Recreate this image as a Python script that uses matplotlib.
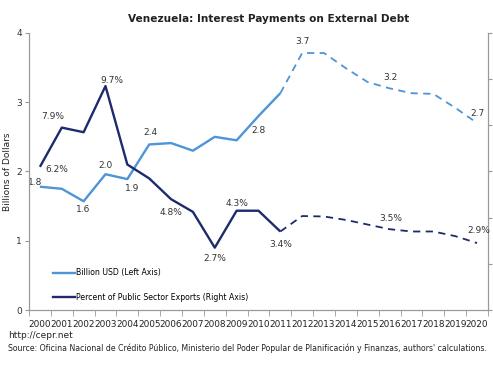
import numpy as np
import matplotlib
matplotlib.use("Agg")
import matplotlib.pyplot as plt
from matplotlib.lines import Line2D

years = list(range(2000, 2021))
billions = [1.78, 1.75, 1.57, 1.96, 1.89, 2.39, 2.41, 2.30, 2.50, 2.45, 2.80,
            3.13, 3.71, 3.71, 3.49, 3.29, 3.20, 3.13, 3.12, 2.92, 2.70]
percent = [6.2, 7.9, 7.7, 9.7, 6.3, 5.7, 4.8, 4.25, 2.7, 4.3, 4.3,
           3.4, 4.07, 4.05, 3.9, 3.7, 3.5, 3.4, 3.4, 3.2, 2.9]
last_actual = 11  # index of 2011, projections after that

# data labels: (index, text, dx px, dy px)
bil_labels = [(0, "1.8", -5, 4), (2, "1.6", 0, -8), (3, "2.0", 0, 9), (4, "1.9", 5, -9),
              (5, "2.4", 1, 12), (10, "2.8", 0, -14), (12, "3.7", 0, 12),
              (16, "3.2", 1, 11), (20, "2.7", 0, 9)]
pct_labels = [(0, "6.2%", 17, -3), (1, "7.9%", -9, 11), (3, "9.7%", 6, 6),
              (6, "4.8%", 0, -13), (8, "2.7%", 0, -11), (9, "4.3%", 0, 7),
              (11, "3.4%", 0, -13), (16, "3.5%", 1, 11), (20, "2.9%", 2, 13)]

light = "#4d94d8"
dark = "#1d2a6d"
grey = "#999999"

plt.rcParams['font.family'] = ['DejaVu Sans']
fig = plt.figure(figsize=(4.93, 3.66), dpi=100)
ax = fig.add_axes([0.0588, 0.153, 0.931, 0.757])
ax2 = ax.twinx()

x = np.arange(len(years))
ax.plot(x[:last_actual + 1], billions[:last_actual + 1], color=light, lw=1.7, solid_capstyle='butt')
ax.plot(x[last_actual:], billions[last_actual:], color=light, lw=1.3, ls=(0, (4, 3)))
ax2.plot(x[:last_actual + 1], percent[:last_actual + 1], color=dark, lw=1.7, solid_capstyle='butt')
ax2.plot(x[last_actual:], percent[last_actual:], color=dark, lw=1.3, ls=(0, (4, 3)))

for i, t, dx, dy in bil_labels:
    ax.annotate(t, (x[i], billions[i]), xytext=(dx, dy), textcoords='offset pixels',
                ha='center', va='center', fontsize=6.5, color='#333333')
for i, t, dx, dy in pct_labels:
    ax2.annotate(t, (x[i], percent[i]), xytext=(dx, dy), textcoords='offset pixels',
                 ha='center', va='center', fontsize=6.5, color='#333333')

ax.set_xlim(-0.5, len(years) - 0.5)
ax.set_ylim(0, 4)
ax2.set_ylim(0, 12)
ax.set_yticks([0, 1, 2, 3, 4])
ax2.set_yticks(range(0, 13, 2))
ax2.set_yticklabels([])
ax.set_xticks(x)
ax.set_xticklabels([str(y) for y in years], fontsize=6.4)
ax.set_xticks(np.arange(-0.5, len(years), 1), minor=True)
ax.tick_params(axis='x', which='major', length=0, pad=7, colors='#222222')
ax.tick_params(axis='x', which='minor', length=4, color=grey)
ax.tick_params(axis='y', length=3, color=grey, labelsize=6.5, pad=2, labelcolor='#333333')
ax2.tick_params(axis='y', length=3, color=grey)

for a in (ax, ax2):
    a.spines['top'].set_visible(False)
    for s in ('left', 'right', 'bottom'):
        a.spines[s].set_color(grey)
        a.spines[s].set_linewidth(0.8)

ax.set_ylabel("Billions of Dollars", fontsize=6.5, labelpad=3, color='#222222')
fig.text(0.545, 0.948, "Venezuela: Interest Payments on External Debt",
         ha='center', va='center', fontsize=7.6, fontweight='bold', color='#222222')

handles = [Line2D([], [], color=light, lw=1.7), Line2D([], [], color=dark, lw=1.7)]
leg = ax.legend(handles, ["Billion USD (Left Axis)", "Percent of Public Sector Exports (Right Axis)"],
                loc='lower left', bbox_to_anchor=(0.052, 0.029), frameon=False, fontsize=5.6,
                handlelength=2.8, handletextpad=0.2, labelspacing=2.0,
                borderaxespad=0, borderpad=0)

fig.text(0.016, 0.082, "http://cepr.net", fontsize=6.5, va='center', color='#222222')
fig.text(0.016, 0.048, "Source: Oficina Nacional de Crédito Público, Ministerio del Poder Popular de "
         "Planificación y Finanzas, authors' calculations.", fontsize=5.6, va='center', color='#222222')

fig.savefig("out.png", dpi=100)
